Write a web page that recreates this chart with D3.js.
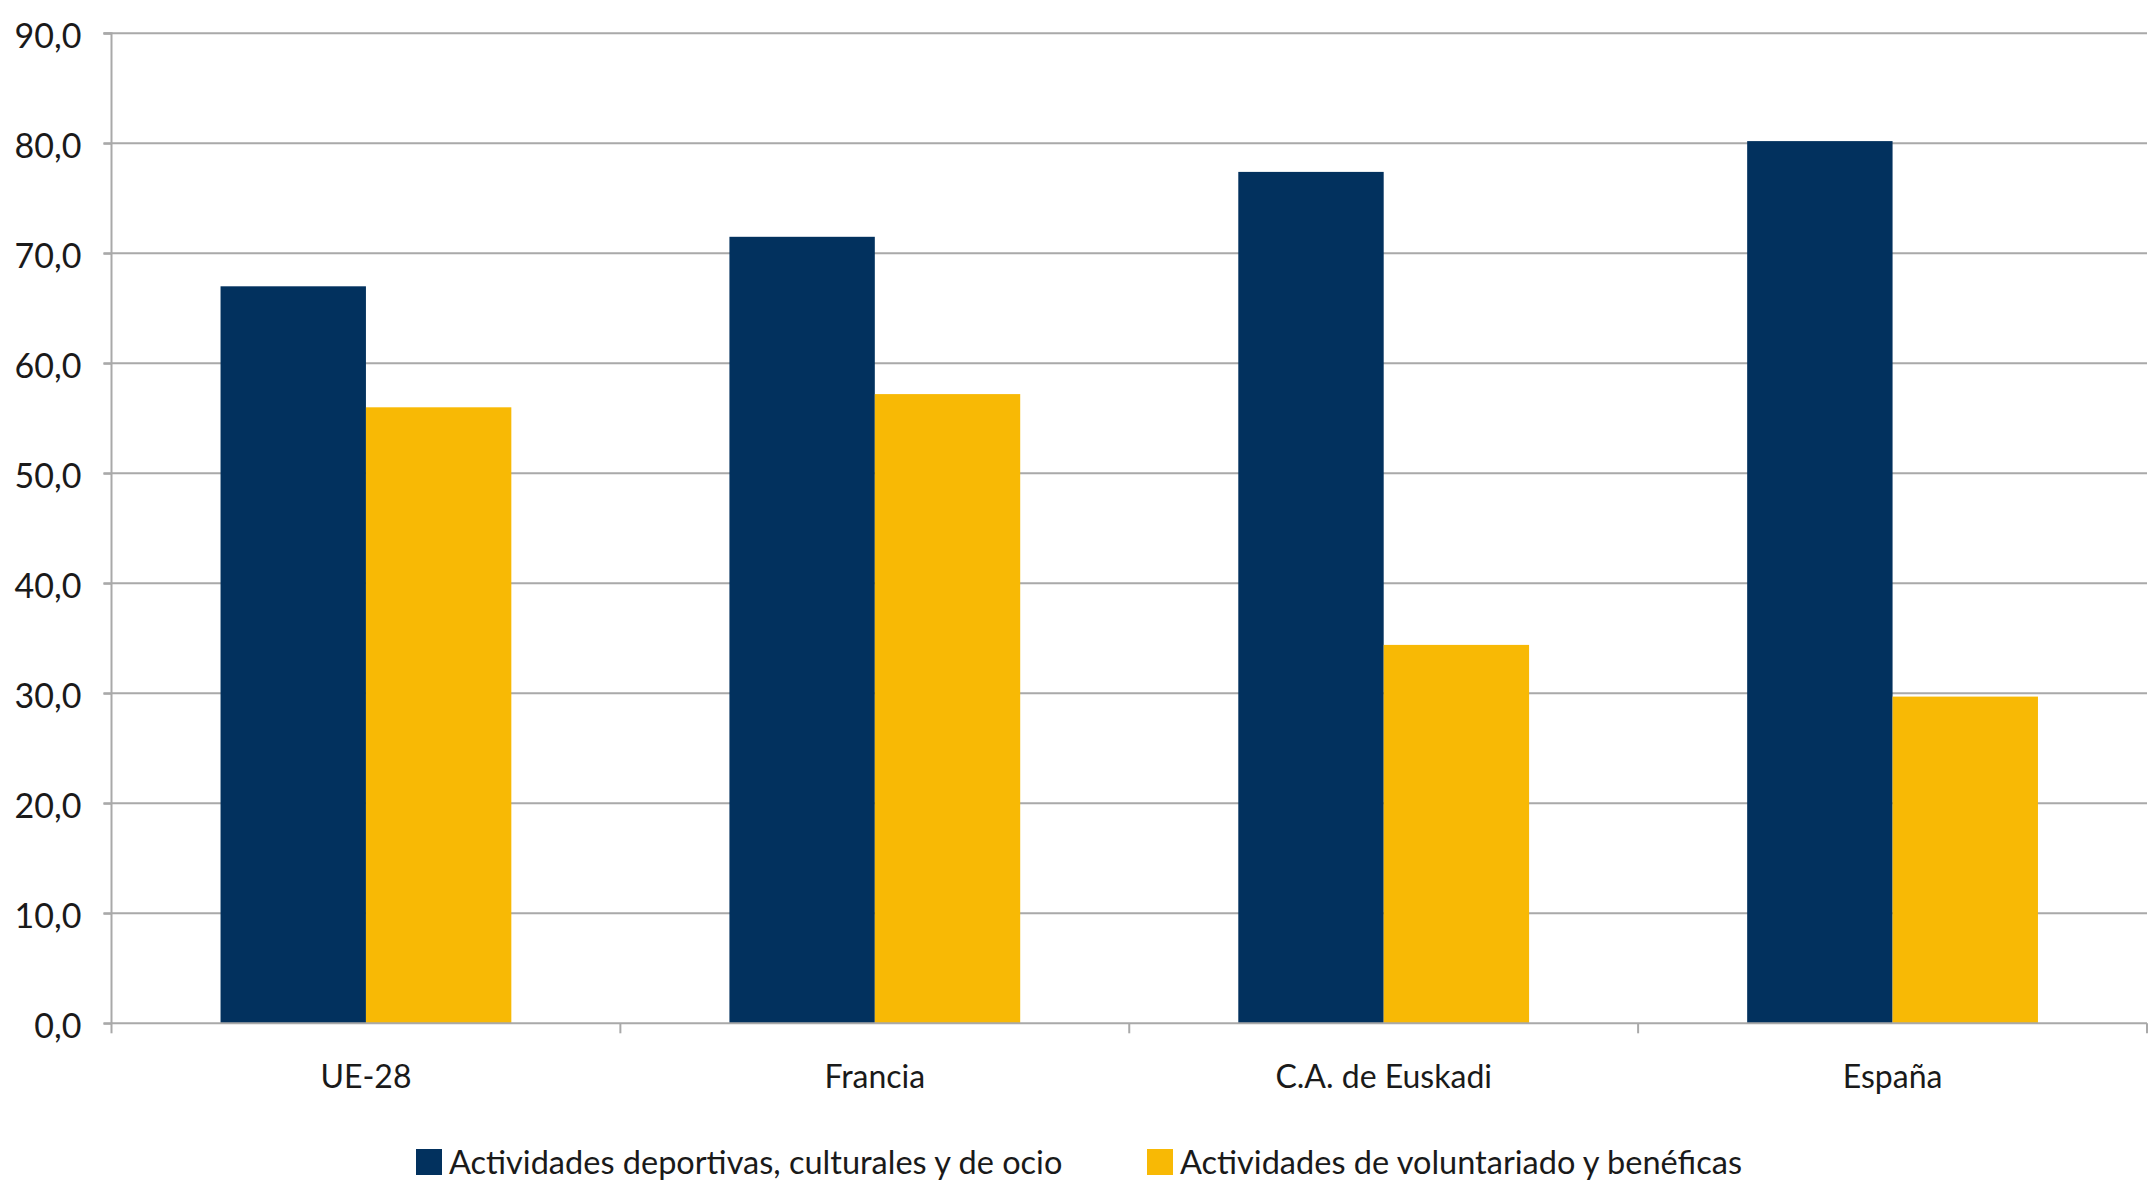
<!DOCTYPE html>
<html>
<head>
<meta charset="utf-8">
<script src="https://cdn.jsdelivr.net/npm/d3@7"></script>
<style>
  html, body { margin: 0; padding: 0; background: #ffffff; }
  svg { display: block; }
  text { font-family: Lato, "Open Sans", sans-serif; fill: #1a1a1a; }
</style>
</head>
<body>
<svg id="chart" width="2151" height="1191"></svg>
<script>
const categories = ["UE-28", "Francia", "C.A. de Euskadi", "España"];
const seriesNames = ["Actividades deportivas, culturales y de ocio", "Actividades de voluntariado y benéficas"];
const deportivas = [67.0, 71.5, 77.4, 80.2];
const voluntariado = [56.0, 57.2, 34.4, 29.7];
const yTicks = [0, 10, 20, 30, 40, 50, 60, 70, 80, 90];
const colors = ["#02315E", "#F8B905"];

const svg = d3.select("#chart");
const margin = { left: 111.5, right: 4, top: 33.3, bottom: 1191 - 1023.3 };
const W = 2151, H = 1191;
const x0 = d3.scaleBand().domain(categories).range([margin.left, W - margin.right]).paddingInner(0).paddingOuter(0);
const x1 = d3.scaleBand().domain([0, 1]).range([0, x0.bandwidth()]).paddingOuter(0.75).paddingInner(0);
const y = d3.scaleLinear().domain([0, 90]).range([H - margin.bottom, margin.top]);

// gridlines
svg.append("g").selectAll("line").data(yTicks.filter(d => d > 0)).join("line")
  .attr("x1", margin.left - 8).attr("x2", W - margin.right)
  .attr("y1", d => y(d)).attr("y2", d => y(d))
  .attr("stroke", "#a9a9a9").attr("stroke-width", 2);

// bars
const data = categories.map((c, i) => ({ c, vals: [deportivas[i], voluntariado[i]] }));
const groups = svg.append("g").selectAll("g").data(data).join("g")
  .attr("transform", d => `translate(${x0(d.c)},0)`);
groups.selectAll("rect").data(d => d.vals.map((v, k) => ({ v, k }))).join("rect")
  .attr("x", d => x1(d.k)).attr("width", x1.bandwidth())
  .attr("y", d => y(d.v)).attr("height", d => y(0) - y(d.v))
  .attr("fill", d => colors[d.k]);

// y axis
const yAxis = d3.axisLeft(y).tickValues(yTicks).tickSize(8).tickPadding(22)
  .tickFormat(d => d3.format(".1f")(d).replace(".", ","));
const gy = svg.append("g").attr("transform", `translate(${margin.left},0)`).call(yAxis);
gy.select(".domain").attr("stroke", "#a9a9a9").attr("stroke-width", 2).attr("d", `M-8,${y(90)}H0V${y(0)}`);
gy.selectAll(".tick line").attr("stroke", "#a9a9a9").attr("stroke-width", 2);
gy.selectAll(".tick text").attr("font-size", 34).attr("fill", "#1a1a1a").attr("dy", "0.42em")
  .attr("font-family", "Lato, sans-serif");

// x axis
const xTickScale = d3.scaleLinear().domain([0, categories.length]).range([margin.left, W - margin.right]);
const gx = svg.append("g").attr("transform", `translate(0,${y(0)})`);
gx.append("line").attr("x1", margin.left - 8).attr("x2", W - margin.right).attr("y1", 0).attr("y2", 0)
  .attr("stroke", "#a9a9a9").attr("stroke-width", 2);
gx.selectAll("line.tk").data(d3.range(categories.length + 1)).join("line").attr("class", "tk")
  .attr("x1", d => xTickScale(d)).attr("x2", d => xTickScale(d)).attr("y1", 0).attr("y2", 10)
  .attr("stroke", "#a9a9a9").attr("stroke-width", 2);
const xAxis = d3.axisBottom(x0).tickSize(0).tickPadding(0);
const gxl = svg.append("g").attr("transform", `translate(0,${y(0)})`).call(xAxis);
gxl.select(".domain").remove();
gxl.selectAll(".tick text").attr("font-size", 32).attr("fill", "#1a1a1a").attr("dy", 0).attr("y", 65)
  .attr("font-family", "Lato, sans-serif");

// legend
const legendX = [416, 1147];
const lg = svg.append("g").selectAll("g").data(seriesNames).join("g")
  .attr("transform", (d, i) => `translate(${legendX[i]},1149)`);
lg.append("rect").attr("width", 26).attr("height", 26).attr("fill", (d, i) => colors[i]);
lg.append("text").attr("x", 33).attr("y", 25).attr("font-size", 32.5).text(d => d);
</script>
</body>
</html>
